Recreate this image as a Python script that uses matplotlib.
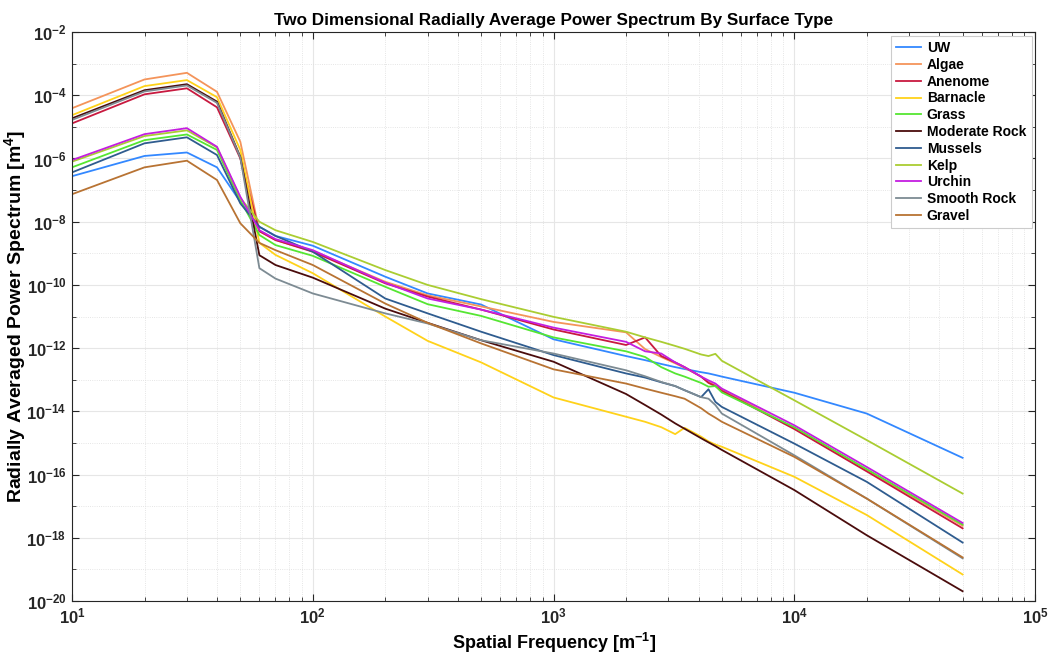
import numpy as np
import matplotlib
matplotlib.use("Agg")
import matplotlib.pyplot as plt
from matplotlib.ticker import FixedLocator, LogLocator, NullFormatter, LogFormatterMathtext

# spatial frequency grid [1/m]
freq = [10, 20, 30, 40, 50, 60, 70, 100, 200, 300, 500, 1000, 2000, 2400,
        2800, 3200, 3500, 4100, 4400, 4700, 5000, 10000, 20000, 50000]

# log10 of the power spectrum, one list per surface type
uw = [-6.56, -5.92, -5.81, -6.28, -7.37, -8.16, -8.45, -8.76, -9.74, -10.27, -10.62, -11.72, -12.25, -12.38,
      -12.5, -12.6, -12.66, -12.76, -12.8, -12.85, -12.9, -13.41, -14.07, -15.47]
algae = [-4.41, -3.50, -3.29, -3.89, -5.47, -8.3, -8.58, -8.93, -9.9, -10.33, -10.68, -11.17, -11.5, -12.03,
         -12.28, -12.48, -12.62, -12.9, -13.07, -13.18, -13.3, -14.54, -15.86, -17.62]
anenome = [-4.89, -3.97, -3.78, -4.38, -6.0, -8.3, -8.58, -8.95, -9.95, -10.37, -10.78, -11.41, -11.9, -11.66,
           -12.25, -12.45, -12.6, -12.9, -13.1, -13.2, -13.35, -14.56, -15.9, -17.7]
barnacle = [-4.63, -3.71, -3.52, -4.06, -5.73, -8.67, -9.05, -9.63, -11.0, -11.77, -12.45, -13.56, -14.17, -14.33,
            -14.5, -14.72, -14.52, -14.8, -14.95, -15.05, -15.12, -16.07, -17.28, -19.16]
grass = [-6.28, -5.42, -5.24, -5.73, -7.32, -8.42, -8.74, -9.08, -10.06, -10.61, -10.98, -11.66, -12.1, -12.28,
         -12.6, -12.8, -12.9, -13.1, -13.22, -13.2, -13.4, -14.5, -15.83, -17.58]
moderate_rock = [-4.73, -3.84, -3.65, -4.2, -5.95, -9.06, -9.37, -9.77, -10.75, -11.2, -11.75, -12.43, -13.45, -13.8,
                 -14.1, -14.38, -14.55, -14.85, -14.98, -15.1, -15.22, -16.49, -17.92, -19.69]
mussels = [-6.44, -5.52, -5.33, -5.89, -7.42, -8.16, -8.45, -8.95, -10.43, -10.9, -11.48, -12.22, -12.8, -12.93,
           -13.08, -13.2, -13.33, -13.55, -13.3, -13.7, -13.86, -15.02, -16.23, -18.15]
kelp = [-6.1, -5.29, -5.11, -5.65, -7.25, -8.0, -8.27, -8.64, -9.53, -10.0, -10.45, -11.01, -11.48, -11.66,
        -11.8, -11.93, -12.02, -12.2, -12.25, -12.18, -12.4, -13.65, -14.91, -16.6]
urchin = [-6.05, -5.23, -5.04, -5.63, -7.21, -8.27, -8.55, -8.9, -9.93, -10.43, -10.78, -11.35, -11.8, -12.1,
          -12.17, -12.45, -12.6, -12.9, -13.02, -13.12, -13.28, -14.44, -15.76, -17.53]
smooth_rock = [-4.78, -3.88, -3.69, -4.24, -5.97, -9.47, -9.8, -10.27, -10.9, -11.22, -11.75, -12.17, -12.7, -12.89,
               -13.07, -13.2, -13.33, -13.55, -13.6, -13.8, -14.07, -15.39, -16.76, -18.65]
gravel = [-7.13, -6.28, -6.07, -6.68, -8.05, -8.67, -8.9, -9.37, -10.59, -11.2, -11.85, -12.67, -13.12, -13.28,
          -13.41, -13.52, -13.6, -13.9, -14.07, -14.2, -14.33, -15.44, -16.76, -18.62]

names = ["UW", "Algae", "Anenome", "Barnacle", "Grass", "Moderate Rock", "Mussels",
         "Kelp", "Urchin", "Smooth Rock", "Gravel"]
series = [uw, algae, anenome, barnacle, grass, moderate_rock, mussels, kelp, urchin, smooth_rock, gravel]
colors = ["#3388ff", "#f4945a", "#c8193f", "#ffd21a", "#55e632", "#4a0c0c", "#2f5c8f",
          "#aacd32", "#c41ee0", "#7d8b93", "#b87333"]

plt.rcParams['font.family'] = ['Liberation Sans', 'DejaVu Sans']
plt.rcParams['font.weight'] = 'bold'
plt.rcParams['mathtext.fontset'] = 'custom'
plt.rcParams['mathtext.rm'] = 'Liberation Sans:bold'
plt.rcParams['mathtext.bf'] = 'Liberation Sans:bold'
plt.rcParams['mathtext.it'] = 'Liberation Sans:bold:italic'

fig = plt.figure(figsize=(10.53, 6.54), dpi=100)
ax = fig.add_axes([0.0684, 0.081, 0.9146, 0.870])

for name, vals, c in zip(names, series, colors):
    ax.plot(freq, 10.0 ** np.array(vals), color=c, lw=1.3, label=name)

ax.set_xscale('log')
ax.set_yscale('log')
ax.set_xlim(10, 1e5)
ax.set_ylim(1e-20, 1e-2)

ax.yaxis.set_major_locator(FixedLocator(10.0 ** np.arange(-20, -1, 2)))
ax.yaxis.set_major_formatter(LogFormatterMathtext())
ax.yaxis.set_minor_locator(LogLocator(base=10, subs='all', numticks=100))
ax.yaxis.set_minor_formatter(NullFormatter())
ax.xaxis.set_major_locator(FixedLocator([10, 100, 1000, 1e4, 1e5]))
ax.xaxis.set_major_formatter(LogFormatterMathtext())
ax.xaxis.set_minor_locator(LogLocator(base=10, subs='all', numticks=100))
ax.xaxis.set_minor_formatter(NullFormatter())

ax.tick_params(which='both', direction='in', top=True, right=True, colors='#262626')
ax.tick_params(which='major', length=5, labelsize=12, pad=4)
ax.tick_params(which='minor', length=3)
for lab in ax.get_xticklabels() + ax.get_yticklabels():
    lab.set_fontweight('bold')

ax.grid(True, which='major', color='#e6e6e6', lw=0.8, ls='-')
ax.grid(True, which='minor', color='#dddddd', lw=0.6, ls=':')
ax.set_axisbelow(True)
for sp in ax.spines.values():
    sp.set_color('#262626')
    sp.set_linewidth(0.8)

ax.set_title("Two Dimensional Radially Average Power Spectrum By Surface Type",
             fontsize=12.3, fontweight='bold', pad=5)
ax.set_xlabel("Spatial Frequency [m$^{-1}$]", fontsize=13, fontweight='bold', labelpad=3)
ax.set_ylabel("Radially Averaged Power Spectrum [m$^{4}$]", fontsize=14, fontweight='bold')
ax.yaxis.set_label_coords(-0.046, 0.5)

leg = ax.legend(loc='upper right', handlelength=1.8, handletextpad=0.4, borderaxespad=0.25,
                labelspacing=0.2, fancybox=False, framealpha=1, edgecolor='#cccccc',
                prop={'weight': 'bold', 'size': 10})
leg.get_frame().set_linewidth(0.8)

fig.savefig("out.png", dpi=100)
